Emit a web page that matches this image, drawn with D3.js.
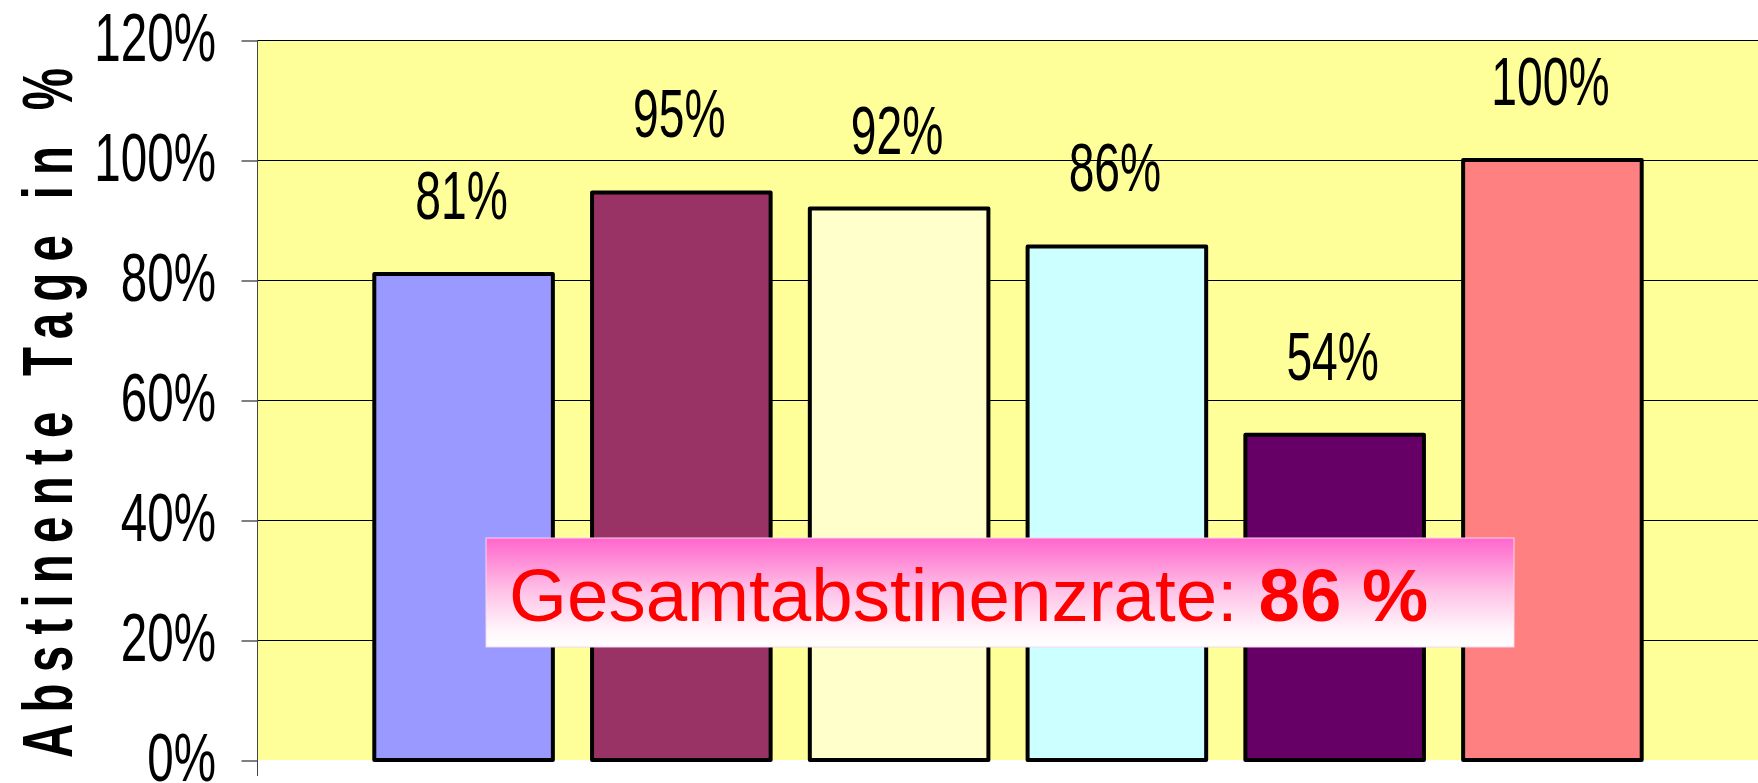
<!DOCTYPE html>
<html>
<head>
<meta charset="utf-8">
<script src="https://cdn.jsdelivr.net/npm/d3@7"></script>
<style>
	html, body { margin: 0; padding: 0; background: #fff; }
	svg { display: block; }
	text { font-family: Arial, "Liberation Sans", sans-serif; }
</style>
</head>
<body>
<div id="chart"></div>
<script>
// data
let groups = ["G1", "G2", "G3", "G4", "G5", "G6"];
let abstinent = [0.81, 0.946, 0.919, 0.856, 0.542, 1.0];
let bar_colors = ["#9999FF", "#993366", "#FFFFCC", "#CCFFFF", "#660066", "#FF8080"];
let y_ticks = [0, 0.2, 0.4, 0.6, 0.8, 1.0, 1.2];
let y_title = "Abstinente Tage in %";
let note_label = "Gesamtabstinenzrate: ";
let note_value = "86 %";

let width = 1758;
let height = 783;
let plot = { left: 258, right: 1758, top: 40, bottom: 760 };

let data = groups.map((g, i) => ({ name: g, value: abstinent[i], color: bar_colors[i] }));

let x = d3.scaleBand()
	.domain(groups)
	.range([plot.left, plot.right])
	.paddingInner(0.18)
	.paddingOuter(0.534);

let y = d3.scaleLinear().domain([0, 1.2]).range([plot.bottom, plot.top]);

let pct = d3.format(".0%");

let svg = d3.select("#chart")
	.append("svg")
	.attr("width", width)
	.attr("height", height);

// plot background
svg.append("rect")
	.attr("x", plot.left)
	.attr("y", plot.top)
	.attr("width", plot.right - plot.left)
	.attr("height", plot.bottom - plot.top)
	.attr("fill", "#FFFF99");

// gridlines
svg.append("g")
	.selectAll("line")
	.data(y_ticks.filter(d => d > 0))
	.enter()
	.append("line")
	.attr("x1", plot.left)
	.attr("x2", plot.right)
	.attr("y1", d => Math.round(y(d)) + 0.5)
	.attr("y2", d => Math.round(y(d)) + 0.5)
	.attr("stroke", "#000")
	.attr("stroke-width", 1);

// y axis: ticks only, labels drawn separately so they can be condensed
let y_axis = svg.append("g")
	.attr("transform", "translate(" + (plot.left - 0.5) + ",0.5)")
	.call(d3.axisLeft(y).tickValues(y_ticks).tickSize(16).tickFormat(""))
	.call(g => g.select(".domain").remove());
y_axis.selectAll(".tick line").attr("stroke", "#000");

svg.append("line")
	.attr("x1", plot.left - 0.5)
	.attr("x2", plot.left - 0.5)
	.attr("y1", plot.top)
	.attr("y2", plot.bottom + 16)
	.attr("stroke", "#444")
	.attr("stroke-width", 1);

svg.append("g")
	.selectAll("text")
	.data(y_ticks)
	.enter()
	.append("text")
	.attr("transform", d => "translate(216," + (y(d) + 21) + ") scale(0.69,1)")
	.attr("text-anchor", "end")
	.attr("font-size", 69)
	.attr("fill", "#000")
	.text(d => pct(d));

// bars
svg.append("g")
	.selectAll("rect")
	.data(data)
	.enter()
	.append("rect")
	.attr("x", d => x(d.name))
	.attr("y", d => y(d.value))
	.attr("width", x.bandwidth())
	.attr("height", d => y(0) - y(d.value))
	.attr("fill", d => d.color)
	.attr("stroke", "#000")
	.attr("stroke-width", 4)
	.attr("stroke-linejoin", "round");

// value labels
svg.append("g")
	.selectAll("text")
	.data(data)
	.enter()
	.append("text")
	.attr("transform", d => "translate(" + (x(d.name) + x.bandwidth() / 2 - 2) + "," + (y(d.value) - 55) + ") scale(0.67,1)")
	.attr("text-anchor", "middle")
	.attr("font-size", 69)
	.attr("fill", "#000")
	.text(d => pct(d.value));

// y axis title, bold, condensed and letter spaced
let title_len = 690;
let title_scale = 0.67;
svg.append("text")
	.attr("transform", "translate(72,758) rotate(-90) scale(" + title_scale + ",1)")
	.attr("font-size", 71)
	.attr("font-weight", "bold")
	.attr("fill", "#000")
	.attr("textLength", title_len / title_scale)
	.attr("lengthAdjust", "spacing")
	.text(y_title);

// overall rate box
let defs = svg.append("defs");
let grad = defs.append("linearGradient")
	.attr("id", "note-grad")
	.attr("x1", 0).attr("y1", 0)
	.attr("x2", 0).attr("y2", 1);
grad.append("stop").attr("offset", "0").attr("stop-color", "#FF66CC");
grad.append("stop").attr("offset", "0.5").attr("stop-color", "#FFC4E8");
grad.append("stop").attr("offset", "0.85").attr("stop-color", "#FFF6FB");
grad.append("stop").attr("offset", "1").attr("stop-color", "#FFFFFF");

let note = svg.append("g");
note.append("rect")
	.attr("x", 486)
	.attr("y", 538)
	.attr("width", 1028)
	.attr("height", 109)
	.attr("fill", "url(#note-grad)")
	.attr("stroke", "#f6d6ee")
	.attr("stroke-width", 1);

let note_text = note.append("text")
	.attr("x", 509)
	.attr("y", 621)
	.attr("font-size", 74.5)
	.attr("fill", "#FF0000");
note_text.append("tspan").text(note_label);
note_text.append("tspan").attr("font-weight", "bold").text(note_value);
</script>
</body>
</html>
